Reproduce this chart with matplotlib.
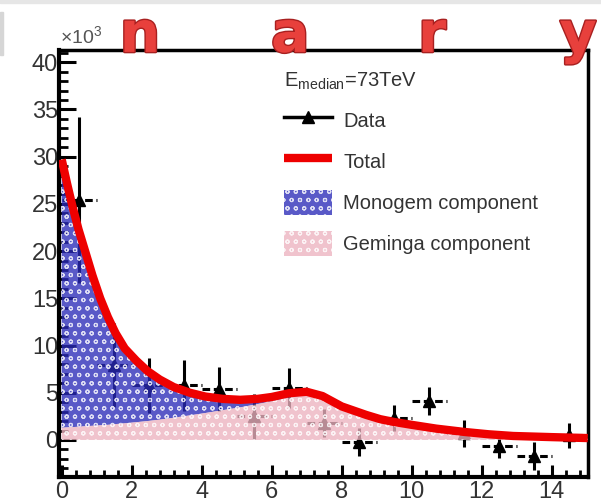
import matplotlib
matplotlib.use("Agg")
import matplotlib.pyplot as plt
import matplotlib.patheffects as pe
from matplotlib.lines import Line2D
from matplotlib.patches import Rectangle
from matplotlib.ticker import MultipleLocator

plt.rcParams["font.family"] = ["Liberation Sans", "DejaVu Sans"]
plt.rcParams["mathtext.fontset"] = "custom"
plt.rcParams["mathtext.rm"] = "Liberation Sans"
plt.rcParams["hatch.linewidth"] = 0.8

# data points (x10^3), one per bin of width 1
bin_centers = [0.5, 1.5, 2.5, 3.5, 4.5, 5.5, 6.5, 7.5, 8.5, 9.5, 10.5, 11.5, 12.5, 13.5, 14.5]
data_y      = [25.4, 7.95, 5.8, 5.8, 5.4, 2.5, 5.5, 1.8, -0.2, 2.3, 4.1, 0.7, -0.6, -1.7, 0.5]
data_err    = [8.8, 4.45, 2.9, 2.7, 2.3, 2.4, 2.1, 1.5, 1.5, 1.4, 1.5, 1.4, 1.3, 1.45, 1.3]
bin_half    = [0.5] * 15

# model curves
curve_x  = [0.0, 0.15, 0.31, 0.48, 0.66, 0.88, 1.1, 1.32, 1.54, 1.8, 2.13, 2.45, 2.8, 3.2,
            3.66, 4.1, 4.6, 5.1, 5.6, 6.0, 6.5, 7.0, 7.45, 8.0, 8.7, 9.1, 9.5, 10.0, 10.7,
            11.5, 12.2, 12.9, 14.0, 15.03]
total    = [29.7, 27.2, 24.7, 22.3, 20.1, 17.4, 15.0, 13.0, 11.3, 9.7, 8.4, 7.3, 6.4, 5.6,
            5.0, 4.6, 4.35, 4.25, 4.35, 4.55, 4.95, 5.1, 4.65, 3.55, 2.65, 2.2, 1.9, 1.6, 1.2,
            0.85, 0.6, 0.42, 0.3, 0.2]
geminga  = [1.3, 1.33, 1.36, 1.4, 1.45, 1.5, 1.55, 1.6, 1.68, 1.76, 1.88, 2.0, 2.15, 2.35,
            2.6, 2.85, 3.15, 3.45, 3.8, 4.1, 4.5, 4.75, 4.45, 3.45, 2.55, 2.1, 1.8, 1.5, 1.1,
            0.75, 0.5, 0.35, 0.25, 0.15]

fig = plt.figure(figsize=(6.01, 5.04), dpi=100)
ax = fig.add_axes([0.098, 0.054, 0.880, 0.847])

# data first, the pattern fills sit on top of it (data shows through a bit)
eb = ax.errorbar(bin_centers, data_y, yerr=data_err, xerr=bin_half, fmt="^", color="black",
                 ms=9, elinewidth=2.2, capsize=0, zorder=2)
eb[2][0].set_linestyle((0, (2.5, 1.2)))

mono = ax.fill_between(curve_x, geminga, total, facecolor="#2a2ab8", edgecolor="white",
                       linewidth=0, hatch="oo", alpha=0.78, zorder=3,
                       label="Monogem component")
gem = ax.fill_between(curve_x, 0, geminga, facecolor="#ecb2bf", edgecolor="white",
                      linewidth=0, hatch="oo", alpha=0.78, zorder=3,
                      label="Geminga component")
tot, = ax.plot(curve_x, total, color="#ee0000", lw=6, zorder=4, solid_capstyle="butt",
               label="Total")

ax.set_xlim(-0.08, 15.03)
ax.set_ylim(-3.9, 41.3)
ax.xaxis.set_major_locator(MultipleLocator(2))
ax.xaxis.set_minor_locator(MultipleLocator(0.4))
ax.yaxis.set_major_locator(MultipleLocator(5))
ax.yaxis.set_minor_locator(MultipleLocator(1))

ax.tick_params(axis="both", which="both", direction="in", top=False, right=False,
               labelsize=17, labelcolor="#333333")
ax.tick_params(axis="y", which="major", length=12, width=2.2, pad=0.5)
ax.tick_params(axis="y", which="minor", length=6.5, width=2.0)
ax.tick_params(axis="x", which="major", length=9, width=2.2, pad=3)
ax.tick_params(axis="x", which="minor", length=5, width=2.0)

for side in ["left", "bottom"]:
    ax.spines[side].set_linewidth(3)
for side in ["top", "right"]:
    ax.spines[side].set_linewidth(2.5)

fig.text(0.100, 0.912, r"$\times$10$^{3}$", fontsize=14, color="#555555")

data_handle = Line2D([], [], color="black", lw=2.5, marker="^", ms=9)
leg = ax.legend([data_handle, tot, mono, gem],
                ["Data", "Total", "Monogem component", "Geminga component"],
                loc="upper left", bbox_to_anchor=(0.425, 0.951), frameon=False,
                fontsize=14.5, handlelength=2.4, handleheight=1.55, handletextpad=0.55,
                labelspacing=0.78, borderpad=0, borderaxespad=0,
                title=r"E$_{\mathregular{median}}$=73TeV", title_fontsize=14.5,
                alignment="left")
for t in leg.get_texts():
    t.set_color("#333333")
leg.get_title().set_color("#333333")

# slide remnants behind the chart
fig.add_artist(Rectangle((0, 1 - 3 / 504), 1, 3 / 504, transform=fig.transFigure,
                         color="#e6e6e6", zorder=0))
fig.add_artist(Rectangle((0, 1 - 55 / 504), 3 / 601, 43 / 504, transform=fig.transFigure,
                         color="#d6d6d6", zorder=0))

letters = ["n", "a", "r", "y"]
letter_x = [0.233, 0.483, 0.719, 0.962]
for ch, lx in zip(letters, letter_x):
    fig.text(lx, 0.897, ch, fontsize=41, fontweight="bold", color="#e8403c",
             family="DejaVu Sans", ha="center", va="baseline", zorder=10,
             path_effects=[pe.withStroke(linewidth=2, foreground="#a82020")])

fig.savefig("out.png", dpi=100)
